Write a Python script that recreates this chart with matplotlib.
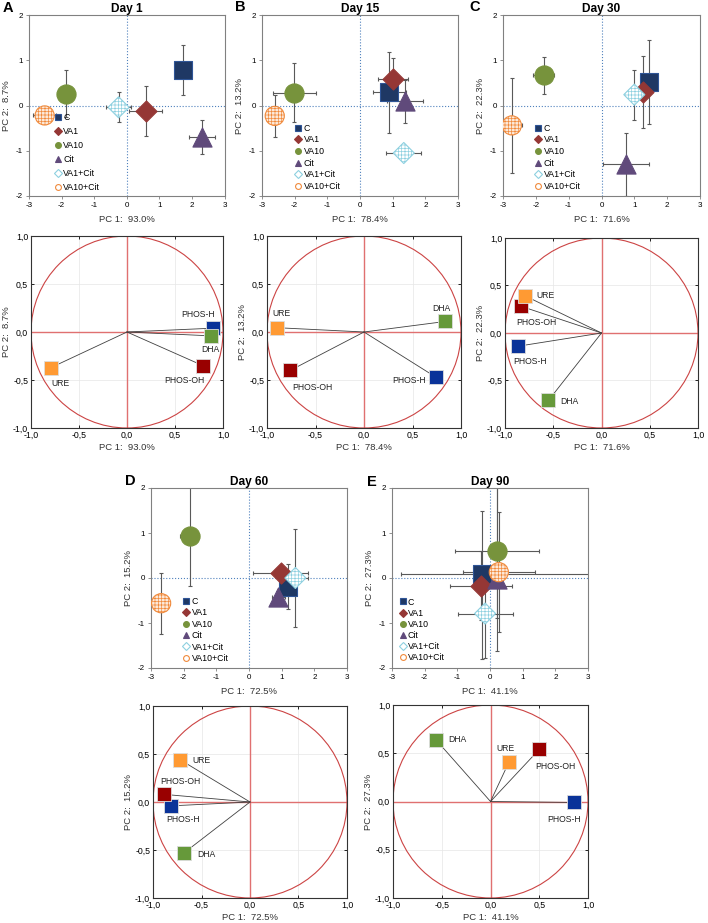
import matplotlib
matplotlib.use('Agg')
import matplotlib.pyplot as plt
from matplotlib.lines import Line2D

plt.rcParams['font.family'] = ['Liberation Sans', 'DejaVu Sans']
plt.rcParams['axes.unicode_minus'] = False
plt.rcParams['hatch.linewidth'] = 0.5

# --- data -------------------------------------------------------------
groups = ['C', 'VA1', 'VA10', 'Cit', 'VA1+Cit', 'VA10+Cit']
days = ['Day 1', 'Day 15', 'Day 30', 'Day 60', 'Day 90']
letters = ['A', 'B', 'C', 'D', 'E']
pc1_var = ['93.0%', '78.4%', '71.6%', '72.5%', '41.1%']
pc2_var = ['8.7%', '13.2%', '22.3%', '15.2%', '27.3%']

# score means and errors (group order as in `groups`)
score_x_d1 = [1.72, 0.58, -1.85, 2.30, -0.25, -2.52]
score_y_d1 = [0.78, -0.12, 0.26, -0.70, -0.04, -0.22]
xerr_d1 = [0, 0.5, 0.1, 0.4, 0.38, 0.35]
yerr_d1 = [0.55, 0.56, 0.52, 0.38, 0.33, 0.05]

score_x_d15 = [0.90, 1.02, -2.01, 1.37, 1.34, -2.61]
score_y_d15 = [0.29, 0.59, 0.28, 0.09, -1.05, -0.23]
xerr_d15 = [0.5, 0.46, 0.65, 0.55, 0.53, 0]
yerr_d15 = [0.9, 0.47, 0.65, 0.47, 0, 0.47]

score_x_d30 = [1.44, 1.25, -1.76, 0.76, 1.00, -2.73]
score_y_d30 = [0.52, 0.30, 0.67, -1.30, 0.24, -0.44]
xerr_d30 = [0, 0, 0.32, 0.7, 0, 0.3]
yerr_d30 = [0.92, 0.79, 0.41, 0.7, 0.55, 1.05]

score_x_d60 = [1.20, 0.97, -1.82, 0.90, 1.42, -2.69]
score_y_d60 = [-0.19, 0.11, 0.93, -0.43, 0.00, -0.56]
xerr_d60 = [0, 0.84, 0.3, 0.2, 0.4, 0]
yerr_d60 = [0.5, 0, 1.1, 0.15, 1.08, 0.68]

score_x_d90 = [-0.25, -0.27, 0.22, 0.20, -0.15, 0.27]
score_y_d90 = [0.10, -0.17, 0.61, -0.03, -0.79, 0.13]
xerr_d90 = [(2.47, 3.4), 0.95, 1.28, 0.1, 0.84, 1.1]
yerr_d90 = [(1.9, 1.4), 0.76, 1.5, (1.6, 2.1), 0.98, 1.33]

# loadings
variables = ['PHOS-H', 'DHA', 'PHOS-OH', 'URE']
var_colors = ['#0A3399', '#66993A', '#990000', '#FF9A33']

load_x_d1 = [0.90, 0.87, 0.79, -0.79]
load_y_d1 = [0.04, -0.04, -0.35, -0.37]
load_x_d15 = [0.74, 0.84, -0.76, -0.90]
load_y_d15 = [-0.47, 0.11, -0.40, 0.045]
load_x_d30 = [-0.87, -0.55, -0.83, -0.79]
load_y_d30 = [-0.14, -0.71, 0.28, 0.39]
load_x_d60 = [-0.81, -0.68, -0.89, -0.72]
load_y_d60 = [-0.04, -0.53, 0.08, 0.44]
load_x_d90 = [0.86, -0.56, 0.50, 0.19]
load_y_d90 = [-0.01, 0.64, 0.54, 0.41]

scores = [
    (score_x_d1, score_y_d1, xerr_d1, yerr_d1),
    (score_x_d15, score_y_d15, xerr_d15, yerr_d15),
    (score_x_d30, score_y_d30, xerr_d30, yerr_d30),
    (score_x_d60, score_y_d60, xerr_d60, yerr_d60),
    (score_x_d90, score_y_d90, xerr_d90, yerr_d90),
]
loadings = [
    (load_x_d1, load_y_d1), (load_x_d15, load_y_d15), (load_x_d30, load_y_d30),
    (load_x_d60, load_y_d60), (load_x_d90, load_y_d90),
]

# --- styling -----------------------------------------------------------
g_marker = ['s', 'D', 'o', '^', 'D', 'o']
g_size = [160, 115, 190, 190, 115, 190]
g_face = ['#1F3864', '#953735', '#77933C', '#604A7B', 'white', '#FDE9D9']
g_edge = ['#2F5597', '#953735', '#77933C', '#604A7B', '#8ED0E0', '#F08A3C']
g_hatch = [None, None, None, None, '+++++', '+++++']

# label offsets (pixels) for the loading plots, in variable order
lab_off = [
    [(-15, 14), (0, -14), (-18, -15), (9, -16)],
    [(-27, -3), (-4, 13), (22, -17), (5, 14)],
    [(13, -15), (21, -1), (15, -16), (20, 0)],
    [(12, -14), (22, -2), (17, 13), (21, -1)],
    [(-10, -17), (21, 0), (16, -17), (-4, 13)],
]

W, H = 708, 923
fig = plt.figure(figsize=(W / 100, H / 100), dpi=100)


def px_axes(l, t, r, b):
    return fig.add_axes([l / W, 1 - b / H, (r - l) / W, (b - t) / H])


score_boxes = [(29, 15, 224.5, 196), (262, 15, 458, 196), (503, 15, 700, 196),
               (151, 488, 347, 668), (392, 488, 588, 668)]
load_boxes = [(31, 236, 223, 428), (267, 236, 461, 428), (505, 238, 698, 428),
              (153, 706, 347, 898), (393, 705, 588, 898)]
letter_pos = [(8, 8), (240, 7), (475, 7), (130, 481), (372, 482)]
legend_anchor = [(0.13, 0.022, 0.58), (0.168, 0.028, 0.3), (0.162, 0.028, 0.3),
                 (0.163, 0.028, 0.28), (0.036, 0.033, 0.24)]


def err(e):
    if isinstance(e, tuple):
        return [[e[0]], [e[1]]]
    return e


for k in range(5):
    l, t, r, b = score_boxes[k]
    wpx, hpx = r - l, b - t
    ax = px_axes(l, t, r, b)
    sx, sy, sxe, sye = scores[k]
    ax.axhline(0, color='#4F81BD', ls=':', lw=0.8, zorder=1)
    ax.axvline(0, color='#4F81BD', ls=':', lw=0.8, zorder=1)
    for i in range(len(groups)):
        ax.errorbar(sx[i], sy[i], xerr=err(sxe[i]), yerr=err(sye[i]), fmt='none',
                    ecolor='#595959', elinewidth=0.8, capsize=1.5, capthick=0.8,
                    zorder=2)
        ax.scatter(sx[i], sy[i], s=g_size[i], marker=g_marker[i],
                   facecolor=g_face[i], edgecolor=g_edge[i], hatch=g_hatch[i],
                   linewidths=0.8, zorder=3 + i * 0.01)
    ax.set_xlim(-3, 3)
    ax.set_ylim(-2, 2)
    ax.set_xticks(range(-3, 4))
    ax.set_yticks(range(-2, 3))
    ax.tick_params(labelsize=5.8, length=2.5, width=0.6, direction='out',
                   color='#808080', pad=2)
    for s in ax.spines.values():
        s.set_color('#808080')
        s.set_linewidth(0.8)
    ax.set_xlabel('PC 1:  ' + pc1_var[k], fontsize=6.8, color='#333333')
    ax.set_ylabel('PC 2:  ' + pc2_var[k], fontsize=6.8, color='#333333')
    ax.xaxis.set_label_coords(0.5, -19 / hpx)
    ax.yaxis.set_label_coords(-18 / wpx, 0.5)
    ax.set_title(days[k], fontsize=8.6, fontweight='bold', pad=2.5)

    handles = [Line2D([], [], ls='none', marker=g_marker[i], ms=4.2,
                      markerfacecolor=(g_face[i] if g_hatch[i] is None else 'white'),
                      markeredgecolor=g_edge[i], markeredgewidth=0.8)
               for i in range(len(groups))]
    lx, ly, ls_ = legend_anchor[k]
    leg = ax.legend(handles, groups, loc='lower left', bbox_to_anchor=(lx, ly),
                    frameon=False, fontsize=6.3, handlelength=0.8,
                    handletextpad=0.2, borderaxespad=0, borderpad=0,
                    labelspacing=ls_)
    leg.set_zorder(10)

    fig.text(letter_pos[k][0] / W, 1 - letter_pos[k][1] / H, letters[k],
             fontsize=10.5, fontweight='bold', ha='center', va='center')

    # loading plot
    l, t, r, b = load_boxes[k]
    wpx, hpx = r - l, b - t
    ax = px_axes(l, t, r, b)
    lxs, lys = loadings[k]
    ax.add_patch(plt.Circle((0, 0), 1, fill=False, color='#CC4444', lw=0.8, zorder=2))
    ax.axhline(0, color='#E07070', lw=1.0, zorder=1)
    ax.axvline(0, color='#E07070', lw=1.0, zorder=1)
    for j in range(len(variables)):
        ax.plot([0, lxs[j]], [0, lys[j]], color='#404040', lw=0.6, zorder=3)
        ax.plot(lxs[j], lys[j], ls='none', marker='s', ms=10,
                markerfacecolor=var_colors[j], markeredgecolor='#DDDDDD',
                markeredgewidth=0.6, zorder=4)
        dx, dy = lab_off[k][j]
        ax.annotate(variables[j], (lxs[j], lys[j]), xytext=(dx, dy),
                    textcoords='offset pixels', ha='center', va='center',
                    fontsize=6.2, color='#222222', zorder=5)
    ax.set_xlim(-1, 1)
    ax.set_ylim(-1, 1)
    ticks = [-1, -0.5, 0, 0.5, 1]
    tlabels = ['-1,0', '-0,5', '0,0', '0,5', '1,0']
    ax.set_xticks(ticks)
    ax.set_xticklabels(tlabels)
    ax.set_yticks(ticks)
    ax.set_yticklabels(tlabels)
    ax.grid(True, color='#E6E6E6', lw=0.5)
    ax.set_axisbelow(True)
    ax.tick_params(labelsize=6.3, length=2.5, width=0.6, direction='in',
                   top=True, right=True, pad=2)
    for s in ax.spines.values():
        s.set_color('#333333')
        s.set_linewidth(0.8)
    ax.set_xlabel('PC 1:  ' + pc1_var[k], fontsize=6.8, color='#333333')
    ax.set_ylabel('PC 2:  ' + pc2_var[k], fontsize=6.8, color='#333333')
    ax.xaxis.set_label_coords(0.5, -15 / hpx)
    ax.yaxis.set_label_coords(-20 / wpx, 0.5)

fig.savefig('out.png', dpi=100)
